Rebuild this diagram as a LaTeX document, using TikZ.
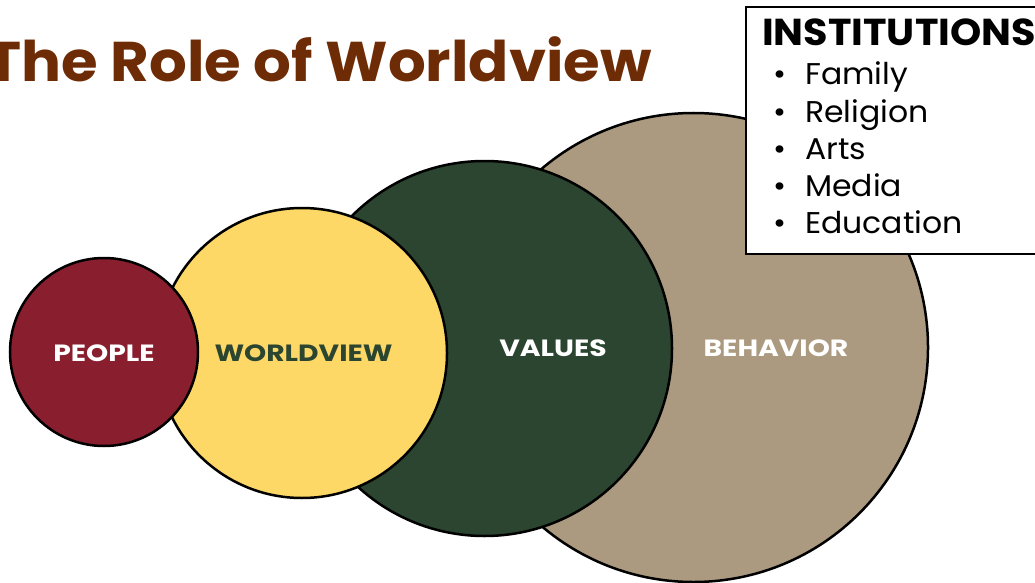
\documentclass[tikz,border=0pt]{standalone}
\usepackage{fontspec}
\setmainfont{Poppins}
\newfontfamily\titlefam{Poppins}[FakeStretch=1.06]
\newfontfamily\lblfam{Poppins}[FakeStretch=1.2]
\newfontfamily\itemfam{Poppins}[FakeStretch=1.05]
\definecolor{titlebrown}{HTML}{6E2C06}
\definecolor{peoplered}{HTML}{891E2F}
\definecolor{wvyellow}{HTML}{FDD866}
\definecolor{valgreen}{HTML}{2B4530}
\definecolor{behtan}{HTML}{AB9A7F}
\tikzset{
  titletext/.style={font=\titlefam\bfseries\fontsize{56}{56}\selectfont, text=titlebrown, anchor=base east, inner sep=0pt},
  disc/.style={circle, draw=black, line width=2.5pt, inner sep=0pt},
  lbl/.style={font=\lblfam\bfseries\fontsize{23.5}{23.5}\selectfont, inner sep=0pt},
  item/.style={font=\itemfam\fontsize{30}{30}\selectfont, anchor=base west, inner sep=0pt},
  bul/.style={font=\itemfam\fontsize{30}{30}\selectfont, anchor=base, inner sep=0pt}
}
\begin{document}
\begin{tikzpicture}[x=1pt,y=-1pt]
\useasboundingbox (0,0) rectangle (1035,583);
\node[titletext] (title) at (652,82) {The Role of Worldview};
\node[disc, fill=behtan, minimum size=469pt] (behavior) at (693.5,347.5) {};
\node[disc, fill=valgreen, minimum size=375pt] (values) at (484.5,348.5) {};
\node[disc, fill=wvyellow, minimum size=290pt] (worldview) at (302,353) {};
\node[disc, fill=peoplered, minimum size=188pt] (people) at (104,352) {};
\node[lbl, text=white] (lpeople) at (104,353) {PEOPLE};
\node[lbl, text=valgreen] (lworldview) at (303.5,353) {WORLDVIEW};
\node[lbl, text=white] (lvalues) at (553,348) {VALUES};
\node[lbl, text=white] (lbehavior) at (776,348) {BEHAVIOR};
\draw[line width=2.5pt, fill=white] (746,7) rectangle (1045,254);
\node[font=\titlefam\bfseries\fontsize{37.5}{37.5}\selectfont, anchor=base west, inner sep=0pt] (inst) at (762,46) {INSTITUTIONS};
\node[bul] (b1) at (780,85) {•};
\node[item] (family) at (805,85) {Family};
\node[bul] (b2) at (780,122) {•};
\node[item] (religion) at (805,122) {Religion};
\node[bul] (b3) at (780,159) {•};
\node[item] (arts) at (805,159) {Arts};
\node[bul] (b4) at (780,196) {•};
\node[item] (media) at (805,196) {Media};
\node[bul] (b5) at (780,233) {•};
\node[item] (education) at (805,233) {Education};
\end{tikzpicture}
\end{document}
